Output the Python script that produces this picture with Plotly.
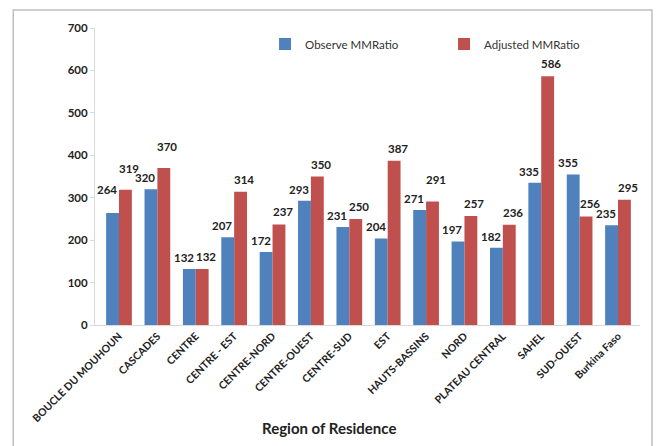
import plotly.graph_objects as go

regions = ["BOUCLE DU MOUHOUN", "CASCADES", "CENTRE", "CENTRE - EST", "CENTRE-NORD",
           "CENTRE-OUEST", "CENTRE-SUD", "EST", "HAUTS-BASSINS", "NORD",
           "PLATEAU CENTRAL", "SAHEL", "SUD-OUEST", "Burkina Faso"]
observed = [264, 320, 132, 207, 172, 293, 231, 204, 271, 197, 182, 335, 355, 235]
adjusted = [319, 370, 132, 314, 237, 350, 250, 387, 291, 257, 236, 586, 256, 295]

FONT = "Lato"
BLUE = "#4F81BD"
RED = "#C0504D"

# labels that were dragged higher in the original chart (extra pixel lift)
obs_lift = {"BOUCLE DU MOUHOUN": 12}
adj_lift = {"BOUCLE DU MOUHOUN": 9, "CASCADES": 9, "HAUTS-BASSINS": 10}

fig = go.Figure()
fig.add_trace(go.Bar(x=regions, y=observed, name="Observe MMRatio",
                     marker=dict(color=BLUE, line=dict(width=0))))
fig.add_trace(go.Bar(x=regions, y=adjusted, name="Adjusted MMRatio",
                     marker=dict(color=RED, line=dict(width=0))))

for r, v in zip(regions, observed):
    fig.add_annotation(x=r, y=v, text="<b>%d</b>" % v, showarrow=False,
                       xshift=-12, yshift=3 + obs_lift.get(r, 0), yanchor="bottom",
                       font=dict(family=FONT, size=11.5, color="#222222"))
for r, v in zip(regions, adjusted):
    fig.add_annotation(x=r, y=v, text="<b>%d</b>" % v, showarrow=False,
                       xshift=10, yshift=4 + adj_lift.get(r, 0), yanchor="bottom",
                       font=dict(family=FONT, size=11.5, color="#222222"))

fig.update_layout(
    width=657, height=446,
    margin=dict(l=95, r=17, t=28, b=121, autoexpand=False),
    paper_bgcolor="white", plot_bgcolor="white",
    barmode="group", bargap=0.33, bargroupgap=0,
    font=dict(family=FONT, size=11, color="#222222"),
    showlegend=True,
    legend=dict(orientation="h", x=0.312, y=0.946, xanchor="left", yanchor="middle",
                entrywidth=134, entrywidthmode="pixels",
                font=dict(family=FONT, size=11.5, color="#333333"),
                bgcolor="rgba(0,0,0,0)"),
)
fig.update_xaxes(tickangle=-45, showline=True, linecolor="#D9D9D9", linewidth=1,
                 ticks="", showgrid=False, automargin=False,
                 tickfont=dict(family=FONT, size=10.5, color="#222222"),
                 tickmode="array", tickvals=regions,
                 ticktext=["<b>%s</b>" % r for r in regions])
fig.update_yaxes(range=[0, 700], showline=True, linecolor="#D9D9D9",
                 linewidth=1, ticks="outside", ticklen=4, tickcolor="#D9D9D9",
                 showgrid=False, zeroline=False, automargin=False,
                 tickfont=dict(family=FONT, size=11.5, color="#222222"),
                 tickmode="array", tickvals=list(range(0, 701, 100)),
                 ticktext=["<b>%d</b>" % v for v in range(0, 701, 100)])

fig.add_annotation(text="<b>Region of Residence</b>", xref="paper", yref="paper",
                   x=0.43, y=-0.347, showarrow=False, yanchor="middle",
                   font=dict(family=FONT, size=15, color="#222222"))
fig.add_shape(type="rect", xref="paper", yref="paper", x0=-0.150, x1=1.022,
              y0=-0.6, y1=1.0606, line=dict(color="#BFBFBF", width=1.5),
              fillcolor="rgba(0,0,0,0)", layer="below")

fig.write_html("out.html", config={"displayModeBar": False},
               post_script="document.body.style.margin='0';document.body.style.overflow='hidden';")
